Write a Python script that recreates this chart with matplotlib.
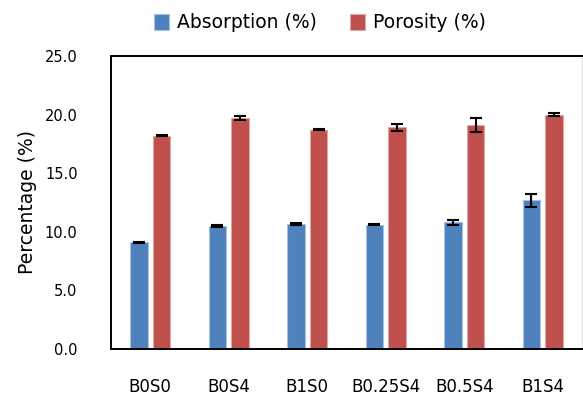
import matplotlib
matplotlib.use("Agg")
import matplotlib.pyplot as plt
import numpy as np

mixes = ["B0S0", "B0S4", "B1S0", "B0.25S4", "B0.5S4", "B1S4"]
absorption = [9.1, 10.5, 10.65, 10.6, 10.8, 12.7]
absorption_err = [0.05, 0.1, 0.1, 0.03, 0.2, 0.55]
porosity = [18.2, 19.7, 18.7, 18.9, 19.1, 20.0]
porosity_err = [0.05, 0.15, 0.04, 0.34, 0.57, 0.15]
yticks = [0, 5, 10, 15, 20, 25]

blue = "#4F81BD"
red = "#C0504D"

plt.rcParams["font.family"] = ["DejaVu Sans"]

fig = plt.figure(figsize=(5.83, 3.98), dpi=100)
ax = fig.add_axes([111 / 583, 1 - 349 / 398, 471 / 583, 293 / 398])

x = np.arange(len(mixes))
w = 0.225
off = 0.144
err_kw = dict(ecolor="black", elinewidth=1.5, capthick=1.5)
ax.bar(x - off, absorption, w, color=blue, edgecolor="#a9c1e0", linewidth=0.8,
       yerr=absorption_err, capsize=4.3, error_kw=err_kw, label="Absorption (%)")
ax.bar(x + off, porosity, w, color=red, edgecolor="#e0a8a6", linewidth=0.8,
       yerr=porosity_err, capsize=4.3, error_kw=err_kw, label="Porosity (%)")

ax.set_xlim(-0.5, len(mixes) - 0.5)
ax.set_ylim(0, 25)
ax.set_yticks(yticks)
ax.set_yticklabels(["{:.1f}".format(v) for v in yticks], fontsize=10.5)
ax.set_xticks(x)
ax.set_xticklabels(mixes, fontsize=12)
ax.tick_params(axis="y", length=0, pad=24)
ax.tick_params(axis="x", length=0, pad=21)

for side in ["left", "bottom", "top"]:
    ax.spines[side].set_linewidth(1.4)
    ax.spines[side].set_color("black")
ax.spines["right"].set_color("#dddddd")
ax.spines["right"].set_linewidth(1.0)

ax.set_ylabel("Percentage (%)", fontsize=13.5)
ax.yaxis.set_label_coords(-0.158, 0.5)

fig.legend(loc="center", bbox_to_anchor=(320 / 583, 1 - 23 / 398), ncol=2,
           frameon=False, fontsize=13.5, handlelength=0.8, handleheight=0.9,
           handletextpad=0.4, columnspacing=1.8)

fig.savefig("out.png", dpi=100)
